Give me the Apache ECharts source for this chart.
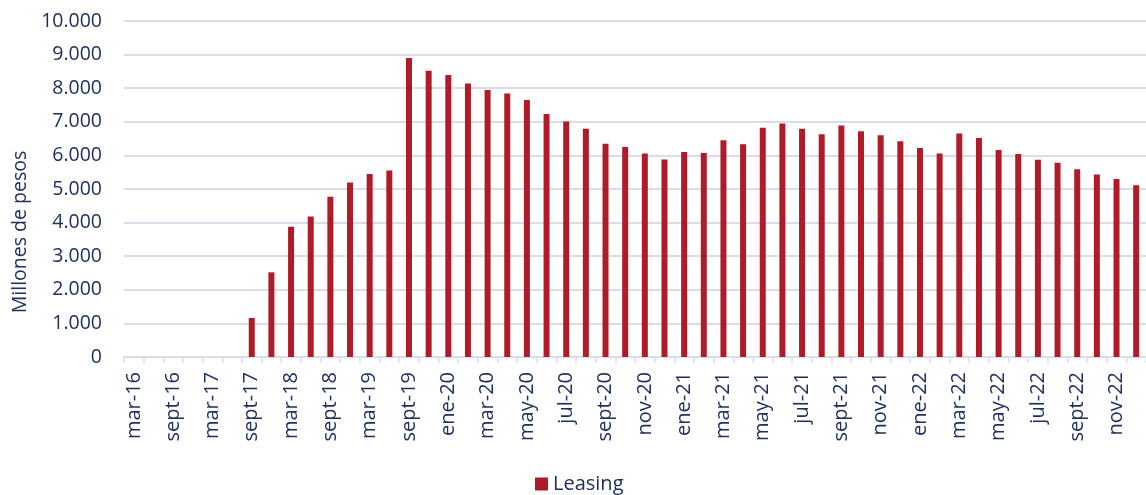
<!DOCTYPE html>
<html>
<head>
<meta charset="utf-8">
<script src="https://cdn.jsdelivr.net/npm/echarts@6/dist/echarts.min.js"></script>
<style>
  html, body { margin: 0; padding: 0; background: #fff; }
  #chart { width: 1146px; height: 495px; }
</style>
</head>
<body>
<div id="chart"></div>
<script>
// periods: quarterly to dic-19, monthly afterwards
const periods = [
    'mar-16', 'jun-16', 'sept-16', 'dic-16',
    'mar-17', 'jun-17', 'sept-17', 'dic-17',
    'mar-18', 'jun-18', 'sept-18', 'dic-18',
    'mar-19', 'jun-19', 'sept-19', 'dic-19',
    'ene-20', 'feb-20', 'mar-20', 'abr-20', 'may-20', 'jun-20',
    'jul-20', 'ago-20', 'sept-20', 'oct-20', 'nov-20', 'dic-20',
    'ene-21', 'feb-21', 'mar-21', 'abr-21', 'may-21', 'jun-21',
    'jul-21', 'ago-21', 'sept-21', 'oct-21', 'nov-21', 'dic-21',
    'ene-22', 'feb-22', 'mar-22', 'abr-22', 'may-22', 'jun-22',
    'jul-22', 'ago-22', 'sept-22', 'oct-22', 'nov-22', 'dic-22'
];

// millones de pesos
const leasing = [
    0, 0, 0, 0,
    0, 0, 1160, 2520,
    3880, 4180, 4770, 5190,
    5450, 5550, 8900, 8520,
    8390, 8140, 7950, 7840, 7650, 7230,
    7010, 6790, 6350, 6250, 6060, 5880,
    6100, 6070, 6450, 6330, 6820, 6950,
    6790, 6630, 6890, 6720, 6600, 6420,
    6220, 6060, 6650, 6520, 6160, 6040,
    5870, 5780, 5590, 5430, 5300, 5110
];

const yTicks = { min: 0, max: 10000, step: 1000 };

const textColor = '#1f3060';
const gridColor = '#dadcec';
const barColor = '#af1b28';
const font = '"Open Sans", "Noto Sans", sans-serif';

function fmtMiles(v) {
    return String(v).replace(/\B(?=(\d{3})+(?!\d))/g, '.');
}

const chart = echarts.init(document.getElementById('chart'), null, { renderer: 'canvas' });

const option = {
    backgroundColor: '#ffffff',
    animation: false,
    grid: {
        left: 124,
        right: -2,
        top: 21,
        bottom: 138,
        containLabel: false
    },
    legend: {
        data: ['Leasing'],
        bottom: -4,
        left: 530,
        itemWidth: 13,
        itemHeight: 13,
        itemGap: 6,
        icon: 'rect',
        textStyle: { color: textColor, fontSize: 20, fontFamily: font }
    },
    graphic: [{
        type: 'text',
        x: 20,
        y: 232,
        rotation: Math.PI / 2,
        style: {
            text: 'Millones de pesos',
            fill: textColor,
            font: '19.5px ' + font,
            textAlign: 'center',
            textVerticalAlign: 'middle'
        }
    }],
    xAxis: {
        type: 'category',
        data: periods,
        boundaryGap: true,
        axisLine: { lineStyle: { color: gridColor, width: 2 } },
        axisTick: {
            show: true,
            interval: 0,
            length: 6,
            lineStyle: { color: gridColor, width: 1.5 }
        },
        axisLabel: {
            interval: 1,
            rotate: 90,
            margin: 15,
            color: textColor,
            fontSize: 20,
            fontFamily: font
        }
    },
    yAxis: {
        type: 'value',
        min: yTicks.min,
        max: yTicks.max,
        interval: yTicks.step,
        axisLine: { show: false },
        axisTick: { show: false },
        splitLine: { lineStyle: { color: gridColor, width: 2 } },
        axisLabel: {
            margin: 22,
            color: textColor,
            fontSize: 19.5,
            fontFamily: font,
            formatter: fmtMiles
        }
    },
    series: [{
        name: 'Leasing',
        type: 'bar',
        data: leasing,
        barWidth: 6,
        itemStyle: { color: barColor }
    }]
};

chart.setOption(option);
window.addEventListener('resize', () => chart.resize());
</script>
</body>
</html>
